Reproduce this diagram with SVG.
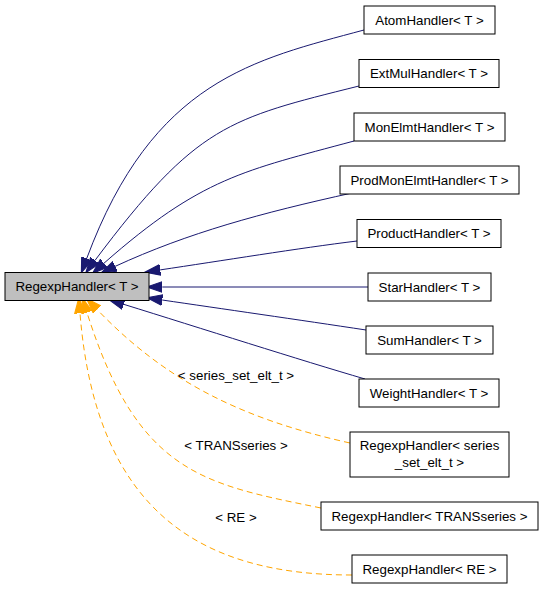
<svg xmlns="http://www.w3.org/2000/svg" width="544" height="589" viewBox="0 0 544 589">
<style>
.node rect{fill:#ffffff;stroke:#000000;stroke-width:1}
.node.main rect{fill:#bfbfbf}
text{font-family:"Liberation Sans",Arial,sans-serif;font-size:13.33px;fill:#000000;text-anchor:middle}
.inh{fill:none;stroke:#191970;stroke-width:1}
.tpl{fill:none;stroke:#ffa500;stroke-width:1;stroke-dasharray:6,4}
</style>
<defs>
<marker id="ab" markerUnits="userSpaceOnUse" markerWidth="16" markerHeight="12" refX="0" refY="4.67" orient="auto" viewBox="0 0 14 9.34">
<path d="M0,0 L13.3,4.67 L0,9.34 Z" fill="#191970" stroke="#191970"/>
</marker>
<marker id="ao" markerUnits="userSpaceOnUse" markerWidth="16" markerHeight="12" refX="0" refY="4.67" orient="auto" viewBox="0 0 14 9.34">
<path d="M0,0 L13.3,4.67 L0,9.34 Z" fill="#ffa500" stroke="#ffa500"/>
</marker>
</defs>
<g id="edges">
<path class="inh" marker-end="url(#ab)" d="M364,30 C254,59.7 153.2,79.9 86.7,258.5"/>
<path class="inh" marker-end="url(#ab)" d="M359,86 C229,118.5 197,124.4 95,260.4"/>
<path class="inh" marker-end="url(#ab)" d="M354,141 C244,170.7 201.5,177.4 104,263.2"/>
<path class="inh" marker-end="url(#ab)" d="M352,193 C262,212.8 187.9,232.8 115.1,266.4"/>
<path class="inh" marker-end="url(#ab)" d="M357,241 C300,248 220,261 160.2,269.9"/>
<path class="inh" marker-end="url(#ab)" d="M368,287 L162.3,287"/>
<path class="inh" marker-end="url(#ab)" d="M366,330 C300,320 220,308.5 162.2,300"/>
<path class="inh" marker-end="url(#ab)" d="M365,379 C300,360 200,328 123.7,304.3"/>
<path class="tpl" marker-end="url(#ao)" d="M350,443 C242.6,419.1 166.2,381.6 97.2,309.6"/>
<path class="tpl" marker-end="url(#ao)" d="M321,508 C203.4,484 138,474 87,312.6"/>
<path class="tpl" marker-end="url(#ao)" d="M352,575 C202,575 96,512.7 80,313.3"/>
<text x="236" y="379.5">&lt; series_set_elt_t &gt;</text>
<text x="236" y="449.5">&lt; TRANSseries &gt;</text>
<text x="236" y="521.5">&lt; RE &gt;</text>
</g>
<g id="RegexpHandler_T" class="node main"><rect x="5" y="272.5" width="144" height="28"/><text x="77" y="291.2">RegexpHandler&lt; T &gt;</text></g>
<g id="AtomHandler" class="node"><rect x="364" y="6" width="131" height="28"/><text x="429.5" y="24.7">AtomHandler&lt; T &gt;</text></g>
<g id="ExtMulHandler" class="node"><rect x="359" y="59.5" width="140" height="28"/><text x="429" y="78.2">ExtMulHandler&lt; T &gt;</text></g>
<g id="MonElmtHandler" class="node"><rect x="354" y="113" width="151" height="28"/><text x="429.5" y="131.7">MonElmtHandler&lt; T &gt;</text></g>
<g id="ProdMonElmtHandler" class="node"><rect x="340" y="166" width="179" height="28"/><text x="429.5" y="184.7">ProdMonElmtHandler&lt; T &gt;</text></g>
<g id="ProductHandler" class="node"><rect x="357" y="219.5" width="144" height="28"/><text x="429" y="238.2">ProductHandler&lt; T &gt;</text></g>
<g id="StarHandler" class="node"><rect x="368" y="273" width="123" height="28"/><text x="429.5" y="291.7">StarHandler&lt; T &gt;</text></g>
<g id="SumHandler" class="node"><rect x="366" y="326" width="127" height="28"/><text x="429.5" y="344.7">SumHandler&lt; T &gt;</text></g>
<g id="WeightHandler" class="node"><rect x="359" y="379" width="140" height="28"/><text x="429" y="397.7">WeightHandler&lt; T &gt;</text></g>
<g id="RegexpHandler_series" class="node"><rect x="350" y="432" width="159" height="45"/><text x="429.5" y="449.5">RegexpHandler&lt; series</text><text x="429.5" y="467">_set_elt_t &gt;</text></g>
<g id="RegexpHandler_TRANS" class="node"><rect x="321" y="502" width="217" height="28"/><text x="429.5" y="520.7">RegexpHandler&lt; TRANSseries &gt;</text></g>
<g id="RegexpHandler_RE" class="node"><rect x="352" y="555" width="155" height="28"/><text x="429.5" y="573.7">RegexpHandler&lt; RE &gt;</text></g>
</svg>
